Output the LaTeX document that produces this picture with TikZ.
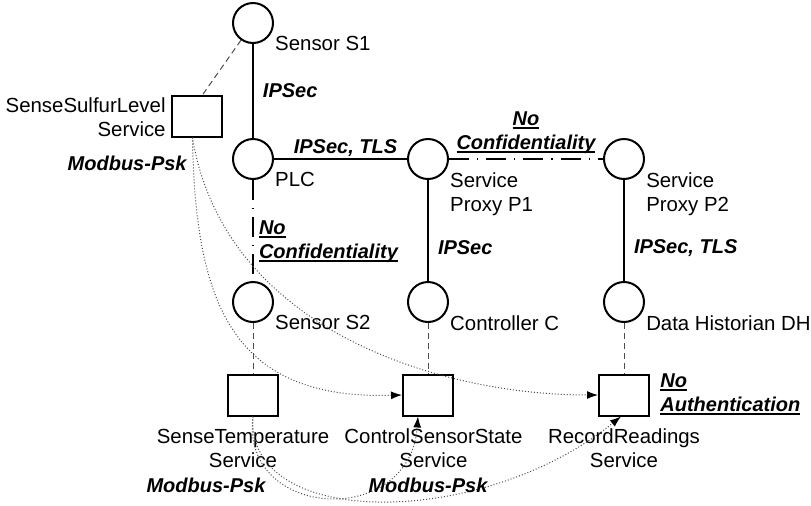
\documentclass[tikz,border=0pt]{standalone}
\usepackage{fontspec}
\setmainfont{Liberation Sans}
\usetikzlibrary{positioning}
\usetikzlibrary{arrows.meta}
\tikzstyle{devnode} = [draw, circle, line width=1pt, minimum size=20pt, inner sep=0pt]
\tikzstyle{svcnode} = [draw, rectangle, line width=1pt, minimum width=25pt, minimum height=20.5pt, inner sep=0pt]
\tikzstyle{devlabel} = [anchor=north west, inner sep=0pt, align=left, xshift=3.5pt, yshift=1pt]
\tikzstyle{svclabel} = [inner sep=0pt, align=center, yshift=-6pt]
\tikzstyle{prot} = [inner sep=0pt, font=\bfseries\itshape]
\tikzstyle{secure} = [line width=1pt]
\tikzstyle{noconf} = [line width=1pt, dash pattern=on 10pt off 4pt on 0.6pt off 4pt]
\tikzstyle{deploy} = [line width=0.5pt, black!70, dash pattern=on 3pt off 2pt]
\tikzstyle{call} = [-{Latex[length=5.5pt, width=4pt, black]}, line width=0.5pt, black!70, densely dotted]
\newcommand{\ulbf}[1]{\setbox0\hbox{#1}\rlap{\rule[-1.6pt]{\wd0}{0.9pt}}\box0}

\begin{document}
\begin{tikzpicture}[x=0.5pt, y=-0.5pt, font=\fontsize{10.2}{12}\selectfont]
  \useasboundingbox (0,0) rectangle (811,505);

  % devices
  \node[devnode, label={[devlabel]south east:PLC}] (plc) at (253,159) {};
  \node[devnode, above=47pt of plc, label={[devlabel]south east:Sensor S1}] (s1) {};
  \node[devnode, right=66.5pt of plc, label={[devlabel]south east:{Service\\Proxy P1}}] (p1) {};
  \node[devnode, right=77pt of p1, label={[devlabel]south east:{Service\\Proxy P2}}] (p2) {};
  \node[devnode, below=50.5pt of plc, label={[devlabel]south east:Sensor S2}] (s2) {};
  \node[devnode, below=50.5pt of p1, label={[devlabel]south east:Controller C}] (ctl) {};
  \node[devnode, below=50.5pt of p2, label={[devlabel]south east:Data Historian DH}] (dh) {};

  % services
  \node[svcnode, label={[anchor=north east, inner sep=0pt, align=right, xshift=-2.5pt, yshift=-1.5pt]north west:{SenseSulfurLevel\\Service}}] (ssl) at (197,116) {};
  \node[svcnode, below=25.25pt of s2, label={[svclabel, xshift=-5pt]below:{SenseTemperature\\Service}}] (stemp) {};
  \node[svcnode, below=25.25pt of ctl, label={[svclabel, xshift=2.75pt]below:{ControlSensorState\\Service}}] (csens) {};
  \node[svcnode, below=25.25pt of dh, label={[svclabel]below:{RecordReadings\\Service}},
        label={[prot, anchor=north west, align=left, xshift=5pt]north east:{\ulbf{No}\\\ulbf{Authentication}}}] (rread) {};

  % network links
  \draw[secure] (s1) -- node[prot, right=4.5pt] (ipsec1) {IPSec} (plc);
  \draw[secure] (plc) -- node[prot, above=0.5pt, xshift=2.5pt] (ipsec2) {IPSec, TLS} (p1);
  \draw[noconf] (p1) -- node[prot, above=2.2pt, align=center] (nc1) {\ulbf{No}\\\ulbf{Confidentiality}} (p2);
  \draw[noconf] (plc) -- node[prot, pos=0.61, right=2.5pt, align=left] (nc2) {\ulbf{No}\\\ulbf{Confidentiality}} (s2);
  \draw[secure] (p1) -- node[prot, pos=0.67, right=4.5pt] (ipsec3) {IPSec} (ctl);
  \draw[secure] (p2) -- node[prot, pos=0.67, right=4.5pt] (ipsec4) {IPSec, TLS} (dh);

  % deployment
  \draw[deploy] (s1.-125) -- (ssl.75);
  \draw[deploy] (s2) -- (stemp);
  \draw[deploy] (ctl) -- (csens);
  \draw[deploy] (dh) -- (rread);

  % service calls
  \draw[call] (ssl.-102) .. controls +(3,163) and +(-172,5) .. (csens.west);
  \draw[call] (ssl.-102) .. controls +(32,193) and +(-157,0) .. (rread.west);
  \draw[call] (stemp.south) .. controls +(-13,103) and +(-8,113) .. (csens.-115);
  \draw[call] (stemp.south) .. controls +(-8,113) and +(-140,113) .. (rread.-98);

  \node[prot, below left=9pt and 5pt of ssl.south] (mb1) {Modbus-Psk};
  \node[prot, below=30.5pt of stemp.south, xshift=-23.5pt] (mb2) {Modbus-Psk};
  \node[prot, below=30.5pt of csens.south] (mb3) {Modbus-Psk};
\end{tikzpicture}
\end{document}
